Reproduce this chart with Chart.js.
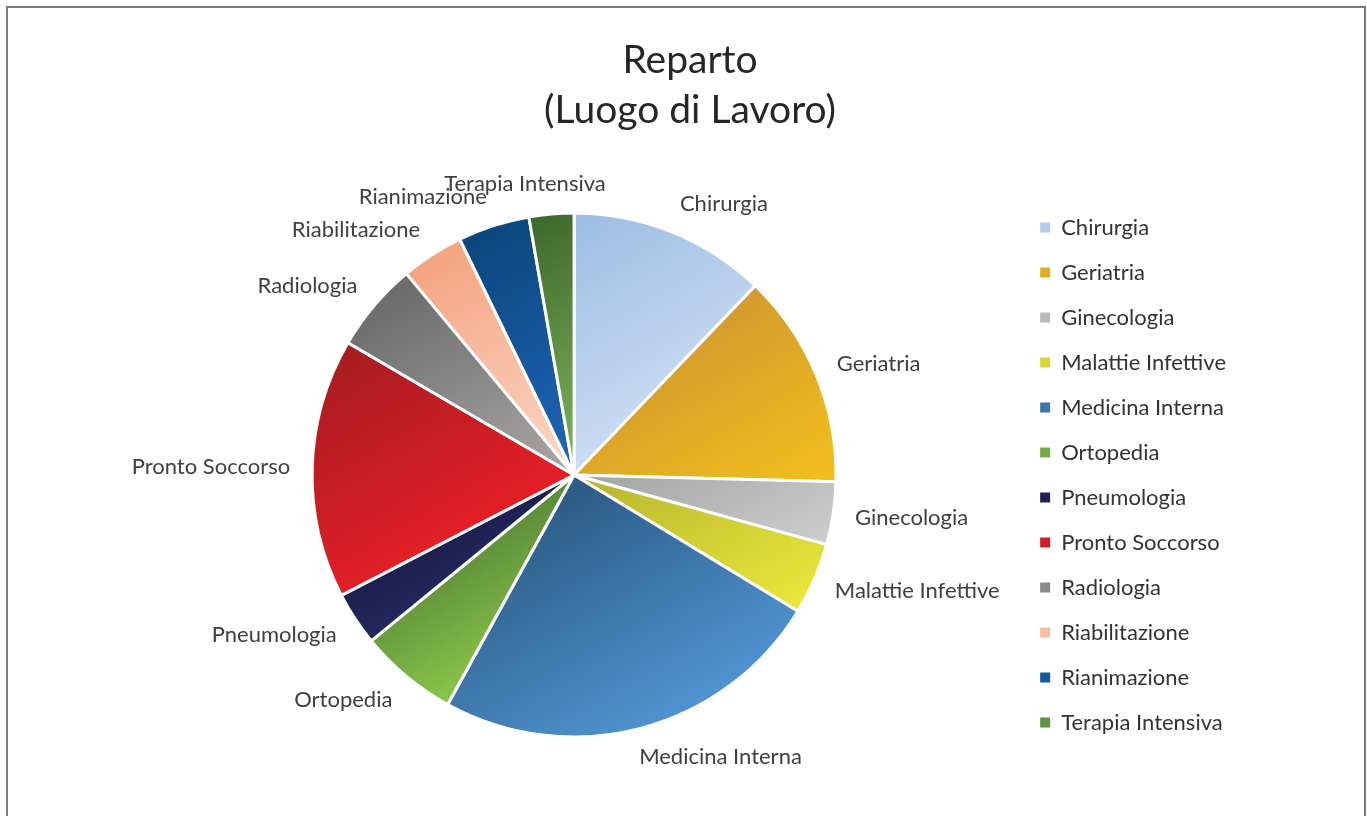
<!DOCTYPE html>
<html>
<head>
<meta charset="utf-8">
<script src="https://cdn.jsdelivr.net/npm/chart.js@4.4.1/dist/chart.umd.min.js"></script>
<style>
  html, body { margin: 0; padding: 0; background: #fff; overflow: hidden; }
  #wrap { position: relative; width: 1367px; height: 816px; }
  #frame { position: absolute; left: 6px; top: 6px; width: 1356px; height: 900px; border: 2px solid #7a7a7a; }
  canvas { position: absolute; left: 0; top: 0; }
</style>
</head>
<body>
<div id="wrap">
  <div id="frame"></div>
  <canvas id="chart" width="1367" height="816"></canvas>
</div>
<script>
// Dati
const titolo = ["Reparto", "(Luogo di Lavoro)"];
const reparti = [
  "Chirurgia", "Geriatria", "Ginecologia", "Malattie Infettive", "Medicina Interna", "Ortopedia",
  "Pneumologia", "Pronto Soccorso", "Radiologia", "Riabilitazione", "Rianimazione", "Terapia Intensiva"
];
const conteggi = [22, 24, 7, 8, 44, 11, 6, 29, 10, 7, 8, 5];

// Colori (scuro -> chiaro) per il gradiente di ogni fetta
const coloriScuri = ["#9dbde3", "#d29b2d", "#a2a2a2", "#b4b42f", "#2b5a82", "#5a8a38",
                     "#1c1f4e", "#a61d22", "#6a6a6a", "#f4a480", "#0b477c", "#3d672c"];
const coloriChiari = ["#cadcf1", "#f3c01c", "#cdcdcd", "#ebe83a", "#5093d1", "#8bc74b",
                      "#23285e", "#e41f26", "#aaa8a7", "#fbd8c8", "#2066bb", "#7fb55c"];
const coloriLegenda = ["#b5cdea", "#e2ad22", "#b9b9b9", "#d8d633", "#3f77ad", "#74ab43",
                       "#1f2355", "#cf1f25", "#8a8a8a", "#f8bea5", "#15579f", "#5f9146"];

const RAGGIO = 262;
const ANGOLO_GRAD = Math.PI / 3;
const FONT = "Lato, 'Open Sans', sans-serif";

function gradienteFetta(context) {
  const i = context.dataIndex;
  const chart = context.chart;
  const area = chart.chartArea;
  if (!area || context.type !== 'data') return coloriChiari[i];
  const dati = chart.data.datasets[0].data;
  const totale = dati.reduce((a, b) => a + b, 0);
  let prima = 0;
  for (let k = 0; k < i; k++) prima += dati[k];
  const a0 = -Math.PI / 2 + prima / totale * 2 * Math.PI;
  const a1 = a0 + dati[i] / totale * 2 * Math.PI;
  const cx = (area.left + area.right) / 2;
  const cy = (area.top + area.bottom) / 2;
  const pts = [[cx, cy]];
  for (let s = 0; s <= 24; s++) {
    const a = a0 + (a1 - a0) * s / 24;
    pts.push([cx + RAGGIO * Math.cos(a), cy + RAGGIO * Math.sin(a)]);
  }
  const dx = Math.cos(ANGOLO_GRAD), dy = Math.sin(ANGOLO_GRAD);
  let mn = Infinity, mx = -Infinity;
  pts.forEach(p => {
    const t = p[0] * dx + p[1] * dy;
    mn = Math.min(mn, t);
    mx = Math.max(mx, t);
  });
  const g = chart.ctx.createLinearGradient(dx * mn, dy * mn, dx * mx, dy * mx);
  g.addColorStop(0, coloriScuri[i]);
  g.addColorStop(1, coloriChiari[i]);
  return g;
}

// Titolo su due righe
const titoloPlugin = {
  id: 'titolo',
  afterDraw(chart) {
    const ctx = chart.ctx;
    ctx.save();
    ctx.font = "39px " + FONT;
    ctx.fillStyle = "#262626";
    ctx.textAlign = "center";
    ctx.textBaseline = "alphabetic";
    ctx.fillText(titolo[0], 690, 73);
    ctx.fillText(titolo[1], 690, 123);
    ctx.restore();
  }
};

// Etichette esterne delle fette
const etichettePlugin = {
  id: 'etichette',
  afterDatasetsDraw(chart) {
    const ctx = chart.ctx;
    const meta = chart.getDatasetMeta(0);
    ctx.save();
    ctx.font = "22px " + FONT;
    ctx.fillStyle = "#404040";
    ctx.textAlign = "left";
    ctx.textBaseline = "middle";
    meta.data.forEach((arc, i) => {
      const mid = (arc.startAngle + arc.endAngle) / 2;
      const ax = arc.x + Math.cos(mid) * (arc.outerRadius + 22);
      const ay = arc.y + Math.sin(mid) * (arc.outerRadius + 30);
      const testo = chart.data.labels[i];
      const w = ctx.measureText(testo).width;
      const c = Math.max(-1, Math.min(1, Math.cos(mid) * 3.5));
      ctx.fillText(testo, ax - (0.5 - 0.5 * c) * w, ay);
    });
    ctx.restore();
  }
};

new Chart(document.getElementById("chart"), {
  type: 'pie',
  data: {
    labels: reparti,
    datasets: [{
      data: conteggi,
      backgroundColor: gradienteFetta,
      borderColor: "#ffffff",
      borderWidth: 3,
      radius: RAGGIO
    }]
  },
  options: {
    responsive: false,
    animation: false,
    layout: { padding: { top: 140, bottom: 6, left: 131, right: 131 } },
    plugins: {
      title: { display: false },
      tooltip: { enabled: false },
      legend: {
        position: 'right',
        labels: {
          boxWidth: 10,
          boxHeight: 10,
          padding: 23,
          color: "#333333",
          font: { family: FONT, size: 22 },
          generateLabels(chart) {
            const items = Chart.overrides.pie.plugins.legend.labels.generateLabels(chart);
            items.forEach((it, i) => {
              it.fillStyle = coloriLegenda[i];
              it.strokeStyle = coloriLegenda[i];
              it.lineWidth = 0;
            });
            return items;
          }
        }
      }
    }
  },
  plugins: [titoloPlugin, etichettePlugin]
});
</script>
</body>
</html>
